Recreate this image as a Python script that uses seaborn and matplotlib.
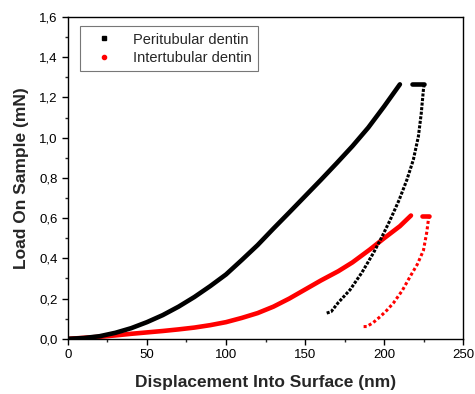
import numpy as np
import pandas as pd
import seaborn as sns
import matplotlib.pyplot as plt
from matplotlib.lines import Line2D
from matplotlib.ticker import FuncFormatter, MultipleLocator

# loading branches (nm, mN)
peri_load_x = [0, 10, 20, 30, 40, 50, 60, 70, 80, 90, 100, 110, 120, 130, 140, 150,
               160, 170, 180, 190, 200, 210]
peri_load_y = [0, 0.004, 0.013, 0.03, 0.053, 0.083, 0.118, 0.160, 0.208, 0.262, 0.32,
               0.392, 0.466, 0.548, 0.628, 0.709, 0.79, 0.873, 0.958, 1.05, 1.155, 1.265]
inter_load_x = [0, 10, 20, 30, 40, 50, 60, 70, 80, 90, 100, 110, 120, 130, 140, 150,
                160, 171, 180, 191, 200, 210, 217]
inter_load_y = [0, 0.005, 0.01, 0.017, 0.025, 0.032, 0.039, 0.047, 0.056, 0.068, 0.083,
                0.104, 0.128, 0.16, 0.2, 0.245, 0.29, 0.336, 0.38, 0.444, 0.50, 0.56, 0.613]

# hold at max load
peri_hold_x = [217.4, 225.3]
peri_hold_y = [1.265, 1.265]
inter_hold_x = [223.8, 228.7]
inter_hold_y = [0.613, 0.613]

# unloading branches
peri_unload_x = [225.3, 224.9, 223.5, 221.7, 218.5, 214.4, 209.5, 203.8, 198.5, 193.2,
                 186, 178.5, 171, 166.5, 163.7]
peri_unload_y = [1.265, 1.24, 1.12, 1.006, 0.89, 0.79, 0.69, 0.59, 0.505, 0.426,
                 0.33, 0.244, 0.18, 0.135, 0.128]
inter_unload_x = [228.7, 228.0, 227.0, 224.9, 221.0, 216.5, 211.5, 205.9, 201.5, 197.5,
                  193.0, 189.0, 187.0]
inter_unload_y = [0.613, 0.59, 0.53, 0.44, 0.37, 0.31, 0.24, 0.178, 0.14, 0.11,
                  0.08, 0.061, 0.061]

rows = []
for name, parts in [("Peritubular dentin", [("load", peri_load_x, peri_load_y),
                                            ("hold", peri_hold_x, peri_hold_y),
                                            ("unload", peri_unload_x, peri_unload_y)]),
                    ("Intertubular dentin", [("load", inter_load_x, inter_load_y),
                                             ("hold", inter_hold_x, inter_hold_y),
                                             ("unload", inter_unload_x, inter_unload_y)])]:
    for stage, xs, ys in parts:
        for x, y in zip(xs, ys):
            rows.append((name, stage, x, y))
df = pd.DataFrame(rows, columns=["sample", "stage", "disp", "load"])

sns.set_style("ticks")
plt.rcParams['font.family'] = ['Liberation Sans', 'DejaVu Sans']

fig = plt.figure(figsize=(4.75, 3.94), dpi=100)
ax = fig.add_axes([0.143, 0.14, 0.832, 0.817])

colors = {"Peritubular dentin": "black", "Intertubular dentin": "#ff0000"}
for (name, stage), sub in df.groupby(["sample", "stage"]):
    if stage == "unload":
        ls = (0, (1, 0.5)) if name.startswith("Peri") else (0, (1, 0.8))
        lw = 2.2
    else:
        ls = "-"
        lw = 3.3
    sns.lineplot(data=sub, x="disp", y="load", sort=False, estimator=None,
                 color=colors[name], lw=lw, ls=ls, ax=ax)

ax.set_xlim(0, 250)
ax.set_ylim(0, 1.6)
ax.xaxis.set_major_locator(MultipleLocator(50))
ax.xaxis.set_minor_locator(MultipleLocator(25))
ax.yaxis.set_major_locator(MultipleLocator(0.2))
ax.yaxis.set_minor_locator(MultipleLocator(0.1))
ax.yaxis.set_major_formatter(FuncFormatter(lambda v, p: f"{v:.1f}".replace(".", ",")))
ax.tick_params(which="major", length=4, width=1, labelsize=9.5, colors="black")
ax.tick_params(which="minor", length=2.5, width=1)
for s in ax.spines.values():
    s.set_color("black")
    s.set_linewidth(1)

ax.set_xlabel("Displacement Into Surface (nm)", fontsize=12.5, fontweight="bold", labelpad=10)
ax.set_ylabel("Load On Sample (mN)", fontsize=12.5, fontweight="bold", labelpad=7)

handles = [Line2D([], [], ls="none", marker="s", ms=3, color="black"),
           Line2D([], [], ls="none", marker="o", ms=3, color="#ff0000")]
leg = ax.legend(handles, ["Peritubular dentin", "Intertubular dentin"],
                loc="upper left", bbox_to_anchor=(0.03, 0.972), fontsize=10.5,
                frameon=True, fancybox=False, borderaxespad=0, handlelength=2.4,
                labelspacing=0.3, borderpad=0.45)
leg.get_frame().set_edgecolor("#555555")
leg.get_frame().set_linewidth(0.8)

fig.savefig("out.png", dpi=100)
